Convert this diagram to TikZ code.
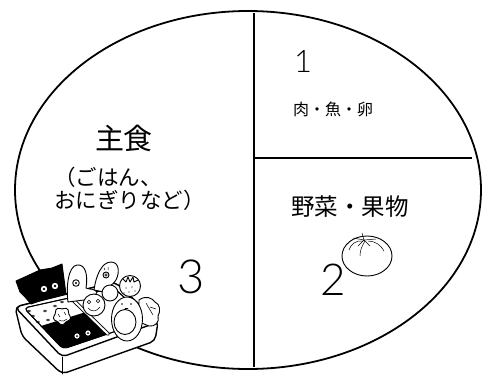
\documentclass[tikz,border=0pt]{standalone}
\usepackage{fontspec}
\setmainfont{Noto Sans CJK JP}
\newfontfamily\digitfont{Lato Light}
\usetikzlibrary{shapes.geometric}
\begin{document}
\begin{tikzpicture}[x=1pt,y=-1pt,
  plate/.style={line width=1.8pt},
  divline/.style={line width=1.4pt},
  ink/.style={line width=0.9pt, line join=round, line cap=round},
  boxline/.style={line width=1.4pt, line join=round},
  thin/.style={line width=0.5pt, line cap=round},
  txt/.style={inner sep=0pt, anchor=center},
]
\useasboundingbox (0,0) rectangle (483,376);

% plate and its sections
\node[draw, ellipse, plate, minimum width=466pt, minimum height=358pt, inner sep=0pt] (plate) at (248,190) {};
\coordinate (vtop) at (254,13);
\coordinate (vbot) at (254,367);
\coordinate (hleft) at (254,158);
\coordinate (hright) at (472,158);
\draw[divline] (vtop) -- (vbot);
\draw[divline] (hleft) -- (hright);

% labels
\node[txt, font=\digitfont\fontsize{31}{31}\selectfont] (one) at (303,61) {1};
\node[txt, font=\fontsize{16}{16}\selectfont] (meat) at (333,109) {肉・魚・卵};
\node[txt, font=\fontsize{29}{29}\selectfont] (staple) at (124,138) {主食};
\node[inner sep=0pt, anchor=west, font=\fontsize{21.5}{21.5}\selectfont] (ricea) at (54,177) {（ごはん、};
\node[inner sep=0pt, anchor=west, font=\fontsize{21.5}{21.5}\selectfont] (riceb) at (54,200) {おにぎりなど）};
\node[txt, font=\fontsize{23.5}{23.5}\selectfont] (veg) at (350,207) {野菜・果物};
\node[txt, font=\digitfont\fontsize{44}{44}\selectfont] (two) at (333,280) {2};
\node[txt, font=\digitfont\fontsize{47}{47}\selectfont] (three) at (191,277) {3};

% tomato
\draw[ink, fill=white] (367,256) ellipse [x radius=25pt, y radius=20pt];
\draw[thin] (363,241) .. controls (356,240) and (351,244) .. (349,250);
\draw[thin] (365,241) .. controls (362,246) and (360,250) .. (360,256);
\draw[thin] (368,241) .. controls (375,241) and (381,245) .. (384,251);
\draw[thin] (364,240) -- (362,233);
\draw[thin] (364,240) -- (353,238) (364,240) -- (376,239) (364,240) -- (358,246) (364,240) -- (370,246);

% lunch box body
\coordinate (bL) at (15,307);
\coordinate (bF) at (62,357);
\coordinate (bR) at (158,322);
\coordinate (bB) at (115,282);
\coordinate (bL2) at (22,336);
\coordinate (bF2) at (62,374);
\coordinate (bR2) at (155,341);
\coordinate (iL) at (24,308);
\coordinate (iF) at (63,349);
\coordinate (iR) at (149,320);
\coordinate (iB) at (114,288);
\coordinate (d1) at (71,298);
\coordinate (d2) at (108,334);
\coordinate (m1) at (41,326);
\coordinate (m2) at (86,312);

\draw[boxline, fill=white, rounded corners=5pt] (bL) -- (bL2) -- (bF2) -- (bR2) -- (bR) -- (bB) -- cycle;
\draw[ink] (bF) -- (bF2);
\draw[boxline, fill=white, rounded corners=5pt] (bL) -- (bF) -- (bR) -- (bB) -- cycle;
\draw[ink, fill=white, rounded corners=4pt] (iL) -- (iF) -- (iR) -- (iB) -- cycle;
\begin{scope}
  \clip[rounded corners=4pt] (iL) -- (iF) -- (iR) -- (iB) -- cycle;
  \fill (m1) -- (m2) -- (d2) -- (iF) -- cycle;
\end{scope}
\draw[ink, rounded corners=4pt] (iL) -- (iF) -- (iR) -- (iB) -- cycle;
% rice grains
\foreach \p in {(33,316),(45,311),(55,306),(48,320),(38,322),(29,311),(62,302)}
  \draw[thin] \p ellipse [x radius=1.6pt, y radius=1pt];
% eyes on the seasoned rice
\foreach \p in {(77,336),(88,333)} {
  \fill[white] \p circle (2.6pt);
  \fill \p circle (1pt);
}
\draw[ink, double=white, double distance=2pt] (d1) -- (d2);

% seaweed sheet with eyes
\draw[ink, fill=black] (16,281) -- (27,276) -- (40,270) -- (52,268) -- (62,264) -- (64,279) -- (66,294)
  -- (55,297) -- (42,300) -- (31,304) -- (25,297) -- (20,292) -- cycle;
\foreach \p in {(44,289),(55,286)} {
  \fill[white] \p circle (3.2pt);
  \fill \p circle (1.3pt);
}

% meatball
\draw[ink, fill=white] plot[smooth cycle, domain=0:345, samples=24]
  ({62+(8+0.9*sin(5*\x))*cos(\x)}, {316+(8+0.9*sin(5*\x))*sin(\x)});
\draw[thin] (58,314) -- (60,317) (64,312) -- (66,315) (59,320) .. controls (62,322) and (65,321) .. (67,319);

% sausage characters
\draw[ink, fill=white] (68,302) .. controls (66,288) and (68,266) .. (77,265)
  .. controls (86,264) and (88,276) .. (86,288) .. controls (90,290) and (94,288) .. (97,292)
  .. controls (96,298) and (88,298) .. (84,300) -- cycle;
\draw[ink] (76,283) circle (3.3pt);
\fill (76,283) circle (1.2pt);
\draw[ink, fill=white] (94,290) .. controls (96,275) and (102,262) .. (111,262)
  .. controls (119,262) and (120,272) .. (116,280) .. controls (113,286) and (106,286) .. (104,292) -- cycle;
\draw[ink] (106,275) circle (3pt);
\draw[thin] (106,275) circle (1.2pt);
\draw[thin] (104,268) -- (105,270) (108,267) -- (108,270);

% strawberry
\draw[ink, fill=white] (130,286) circle (10.5pt);
\draw[ink] (123,279) -- (126,282) -- (128,277) -- (130,282) -- (133,277) -- (134,282) -- (138,280);
\foreach \p in {(126,288),(132,287),(129,292),(135,291),(124,293)}
  \fill \p circle (0.6pt);

% lettuce
\draw[ink, fill=white] (139,300) .. controls (146,295) and (152,298) .. (155,302)
  .. controls (160,304) and (161,311) .. (158,316) .. controls (160,322) and (155,327) .. (149,326)
  -- (139,322) -- cycle;
\draw[thin] (146,303) -- (153,315) (150,307) -- (156,309);

% round ball behind
\draw[ink, fill=white] (110,293) circle (8pt);

% smiling ball
\draw[ink, fill=white] (94,305) circle (11pt);
\draw[thin] (89,302) circle (1.8pt) (98,301) circle (1.8pt);
\draw[thin] (88,308) .. controls (91,312) and (97,312) .. (100,307);

% egg
\draw[ink, fill=white] (127,319) ellipse [x radius=15.5pt, y radius=22pt];
\draw[ink] (125,322) ellipse [x radius=11pt, y radius=12.5pt];
\fill (122,304) circle (0.9pt) (131,304) circle (0.9pt);
\draw[thin] (125,308) -- (128,308);
\end{tikzpicture}
\end{document}
